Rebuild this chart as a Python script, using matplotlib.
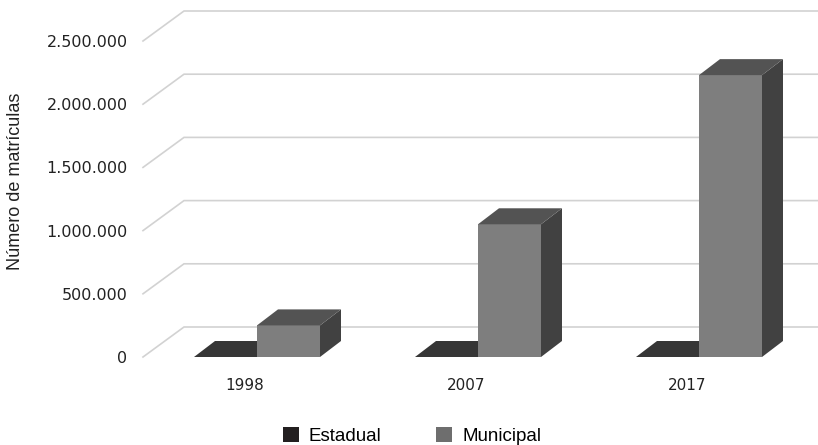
import matplotlib
matplotlib.use('Agg')
import numpy as np
import matplotlib.pyplot as plt
from matplotlib.patches import Polygon, Patch

# data
anos = ['1998', '2007', '2017']
estadual = [0, 0, 0]
municipal = [250000, 1050000, 2230000]
ticks = [0, 500000, 1000000, 1500000, 2000000, 2500000]

W, H = 818, 445
fig = plt.figure(figsize=(W / 100, H / 100), dpi=100)

# pixel geometry of the reference
ax_l, ax_r, ax_t, ax_b = 140, 818, 6, 372
x0_px, y0_px = 257, 357        # centre of first group / baseline
px_cat = 221.0                 # px per category
px_val = 126.4 / 1e6           # px per unit value

ax = fig.add_axes([ax_l / W, (H - ax_b) / H, (ax_r - ax_l) / W, (ax_b - ax_t) / H])
ax.set_xlim((ax_l - x0_px) / px_cat, (ax_r - x0_px) / px_cat)
ax.set_ylim(-(ax_b - y0_px) / px_val, (y0_px - ax_t) / px_val)

def dxu(px):
    return px / px_cat

def dyu(px):
    return px / px_val

# back wall / grid lines (oblique)
gx0 = (143 - x0_px) / px_cat
gdx, gdy = dxu(41), dyu(30)
xend = ax.get_xlim()[1]
for v in ticks:
    ax.plot([gx0, gx0 + gdx, xend], [v, v + gdy, v + gdy],
            color='#d2d2d2', lw=1.2, zorder=1, solid_joinstyle='miter')

bw = 63 / px_cat
bdx, bdy = dxu(21), dyu(16)

def bar3d(x, h, front, top, side):
    ax.bar(x, h, width=bw, align='edge', color=front, zorder=3, linewidth=0)
    ax.add_patch(Polygon([(x, h), (x + bw, h), (x + bw + bdx, h + bdy), (x + bdx, h + bdy)],
                         closed=True, facecolor=top, edgecolor='none', zorder=3))
    ax.add_patch(Polygon([(x + bw, 0), (x + bw + bdx, bdy), (x + bw + bdx, h + bdy), (x + bw, h)],
                         closed=True, facecolor=side, edgecolor='none', zorder=2.9))

for i in range(len(anos)):
    bar3d(i - bw, estadual[i], '#252525', '#363636', '#2a2a2a')
    bar3d(i, municipal[i], '#7e7e7e', '#535353', '#414141')

# category labels
for i, a in enumerate(anos):
    ax.text(i - 12 / px_cat, -dyu(29), a, ha='center', va='center',
            fontsize=11, color='#222222', family='DejaVu Sans')

ax.set_yticks(ticks)
ax.set_yticklabels([f'{v:,}'.replace(',', '.') for v in ticks],
                   fontsize=11.5, color='#222222', family='DejaVu Sans')
ax.tick_params(axis='y', length=0, pad=9)
ax.set_xticks([])
for s in ax.spines.values():
    s.set_visible(False)
ax.patch.set_alpha(0)

fig.text(16 / W, (H - 181) / H, 'Número de matrículas', rotation=90,
         ha='center', va='center', fontsize=13, color='#222222', family='Liberation Sans')

handles = [Patch(facecolor='#231f20', label='Estadual'),
           Patch(facecolor='#6e6e6e', label='Municipal')]
fig.legend(handles=handles, loc='center', bbox_to_anchor=(412 / W, (H - 436) / H),
           ncol=2, frameon=False, handlelength=0.85, handleheight=0.85,
           handletextpad=0.55, columnspacing=2.9,
           prop={'family': 'Liberation Sans', 'size': 13.5})

fig.savefig('out.png', dpi=100)
